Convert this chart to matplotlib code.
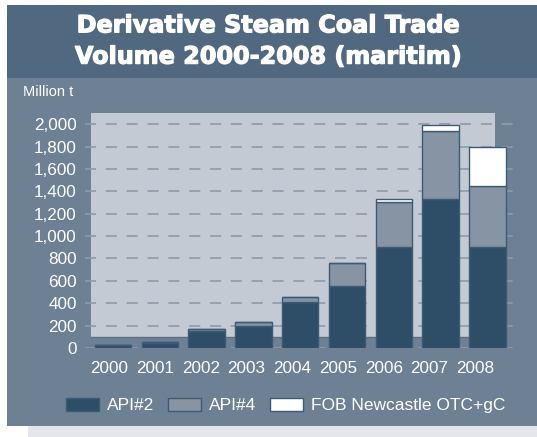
import numpy as np
import matplotlib
matplotlib.use("Agg")
import matplotlib.pyplot as plt
import matplotlib.patheffects as pe
from matplotlib.patches import Rectangle, Patch
from matplotlib.ticker import FuncFormatter

years = ["2000", "2001", "2002", "2003", "2004", "2005", "2006", "2007", "2008"]
api2 = [30, 48, 150, 200, 410, 555, 900, 1335, 900]
api4 = [0, 8, 20, 30, 50, 205, 405, 600, 545]
fob = [0, 0, 0, 0, 0, 0, 25, 60, 350]
yticks = list(range(0, 2001, 200))

c_title = "#506880"
c_panel = "#6e8094"
c_wall = "#c4cad4"
c_api2 = "#2e4d66"
c_api4 = "#8794a4"
c_edge = "#3e5b75"
c_grid = "#8d9aab"

plt.rcParams['font.family'] = ['Liberation Sans', 'DejaVu Sans']
plt.rcParams['lines.scale_dashes'] = False

W, H = 537, 437
fig = plt.figure(figsize=(W / 100, H / 100), dpi=100)
fig.patch.set_facecolor("white")

def px_rect(x0, y0, x1, y1, color):
    fig.patches.append(Rectangle((x0 / W, 1 - y1 / H), (x1 - x0) / W, (y1 - y0) / H,
                                 transform=fig.transFigure, facecolor=color,
                                 edgecolor="none", zorder=-5))

px_rect(7, 5, 537, 426, c_panel)
px_rect(7, 5, 537, 78, c_title)
px_rect(28, 426, 537, 437, "#e4e6eb")

title = fig.text(268 / W, 1 - 41 / H, "Derivative Steam Coal Trade\nVolume 2000-2008 (maritim)",
                 ha="center", va="center", color="white", fontsize=17.2, fontweight="bold",
                 family="DejaVu Sans", linespacing=1.38)
title.set_path_effects([pe.withStroke(linewidth=0.9, foreground="white")])
fig.text(23 / W, 1 - 92 / H, "Million t", ha="left", va="center", color="white", fontsize=10.5)

# pixel layout: bar i centred at 113 + 46.8*i
sp = 46.8
ax = fig.add_axes([85 / W, 1 - 348 / H, 430 / W, 235 / H])
ax.set_facecolor("none")
for s in ax.spines.values():
    s.set_visible(False)

x = np.arange(len(years))
ax.set_xlim((85 - 113) / sp, (515 - 113) / sp)
ax.set_ylim(0, 2100)

# back wall
ax.add_patch(Rectangle(((91 - 113) / sp, 100), (495 - 91) / sp, 2000,
                       facecolor=c_wall, edgecolor="none", zorder=0))
ax.plot([(91 - 113) / sp, (495 - 113) / sp], [100, 100], color="#5d6f82", lw=1, zorder=0.5)

for t in yticks:
    ax.axhline(t, color=c_grid, lw=1.2, linestyle=(0, (8, 7)), zorder=1)

bw = 36.5 / sp
b4 = np.array(api2)
bf = b4 + np.array(api4)
ax.bar(x, api2, width=bw, color=c_api2, edgecolor=c_edge, lw=1, zorder=3)
ax.bar(x, api4, width=bw, bottom=b4, color=c_api4, edgecolor=c_edge, lw=1, zorder=3)
ax.bar(x, fob, width=bw, bottom=bf, color="white", edgecolor=c_edge, lw=1, zorder=3)

ax.set_yticks(yticks)
ax.yaxis.set_major_formatter(FuncFormatter(lambda v, p: f"{int(v):,}"))
# year labels sit on the front edge of the floor, slightly left of the bars
ax.set_xticks((109.5 + 45.7 * x - 113) / sp)
ax.set_xticklabels(years)
ax.tick_params(axis="both", length=0, colors="white", labelsize=12.3)
ax.tick_params(axis="y", pad=6)
ax.tick_params(axis="x", pad=9.5)

handles = [Patch(facecolor=c_api2, edgecolor=c_edge, label="API#2"),
           Patch(facecolor=c_api4, edgecolor=c_edge, label="API#4"),
           Patch(facecolor="white", edgecolor=c_edge, label="FOB Newcastle OTC+gC")]
leg = fig.legend(handles=handles, loc="center", bbox_to_anchor=(286 / W, 1 - 405.5 / H),
                 ncol=3, frameon=False, fontsize=12.5, handlelength=1.9, handleheight=0.75,
                 handletextpad=0.45, columnspacing=0.8, borderaxespad=0, borderpad=0)
for t in leg.get_texts():
    t.set_color("white")

fig.savefig("out.png", dpi=100, facecolor=fig.get_facecolor())
